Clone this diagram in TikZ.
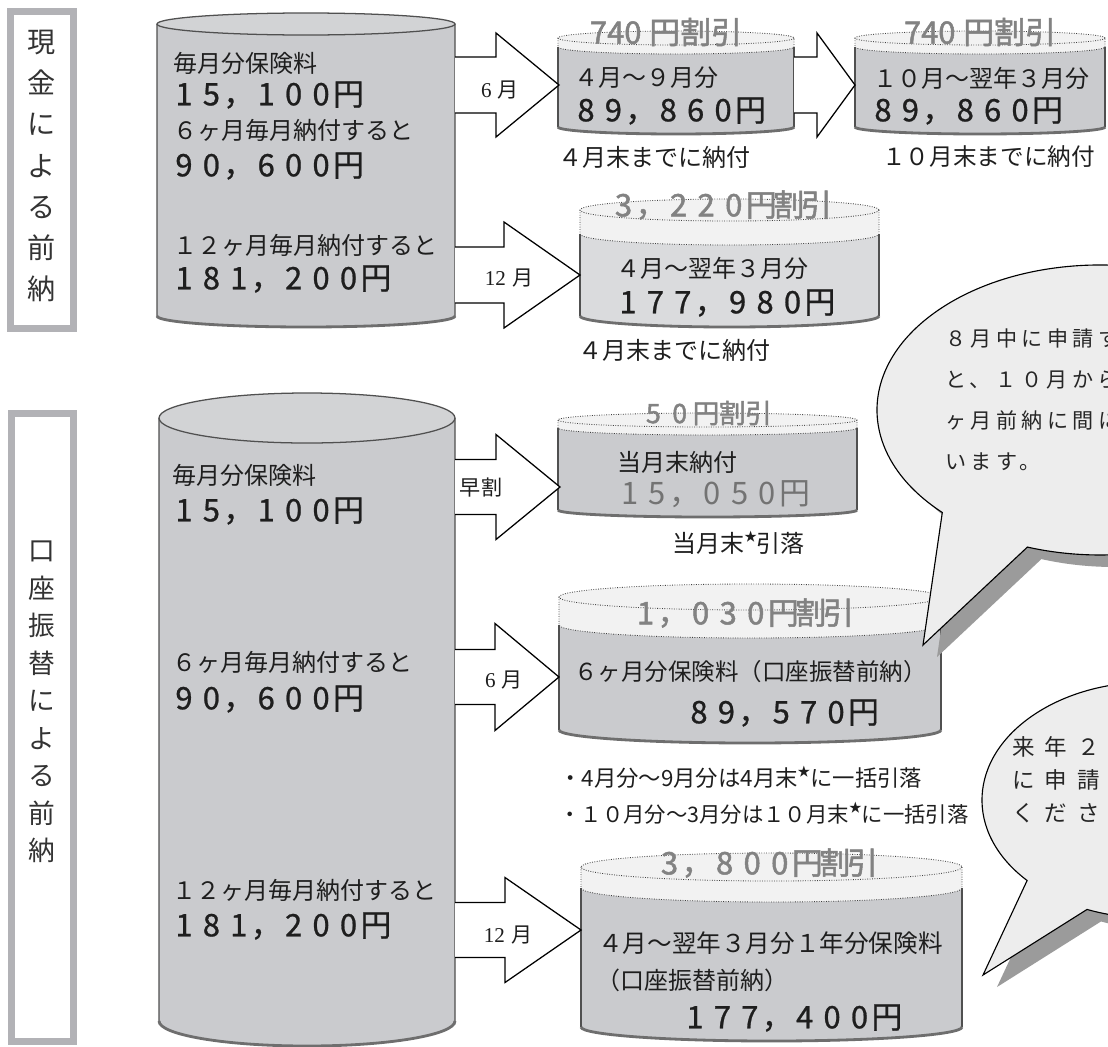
\documentclass[tikz,border=0pt]{standalone}
\usepackage{fontspec}
\usepackage{tikz}
\setmainfont{Noto Sans CJK JP}
\newfontfamily\serifnum{Liberation Serif}
\newfontfamily\numfont[FakeBold=0.8]{Noto Sans CJK JP}
\newfontfamily\salefont[FakeBold=1.6]{Noto Sans CJK JP}
\newfontfamily\bubbleA[LetterSpace=21]{Noto Sans CJK JP}
\newfontfamily\bubbleB[LetterSpace=45]{Noto Sans CJK JP}
\usetikzlibrary{calc}
\definecolor{cylbody}{RGB}{202,203,206}
\definecolor{cyllight}{RGB}{218,219,221}
\definecolor{salefill}{RGB}{242,242,242}
\definecolor{cyledge}{RGB}{80,80,80}
\definecolor{cylshade}{RGB}{110,110,110}
\definecolor{framegray}{RGB}{178,178,182}
\definecolor{bubblefill}{RGB}{237,237,237}
\definecolor{bubbleshade}{RGB}{155,155,155}
\definecolor{salecol}{RGB}{130,130,130}
\definecolor{graynum}{RGB}{115,115,115}
\definecolor{textcol}{RGB}{30,30,30}
\tikzstyle{cylline} = [draw=cyledge, line width=0.9pt]
\tikzstyle{cylbase} = [draw=cylshade, line width=2pt]
\tikzstyle{dotline} = [draw=black!75, line width=0.6pt, dash pattern=on 0.6pt off 1.1pt]
\tikzstyle{arrowline} = [draw=black, fill=white, line width=0.9pt, line join=miter]
\tikzstyle{sideframe} = [draw=framegray, line width=5pt]
\tikzstyle{bubble} = [draw=black, fill=bubblefill, line width=0.8pt]
\tikzstyle{bubbleshadow} = [fill=bubbleshade]
\tikzstyle{txt} = [anchor=west, inner sep=0pt, text=textcol, font=\fontsize{17.07pt}{20pt}\selectfont]
\tikzstyle{num} = [txt, font=\numfont\fontsize{22pt}{26pt}\selectfont]
\tikzstyle{note} = [txt, font=\fontsize{15.9pt}{18pt}\selectfont]
\tikzstyle{sale} = [anchor=center, inner sep=0pt, text=salecol, font=\salefont\fontsize{22pt}{26pt}\selectfont]
\tikzstyle{salesm} = [sale, font=\salefont\fontsize{19pt}{22pt}\selectfont]
\tikzstyle{arrowlabel} = [anchor=center, inner sep=0pt, text=textcol, font=\fontsize{15pt}{18pt}\selectfont]
\tikzstyle{vlabel} = [anchor=center, align=center, inner sep=0pt, text=black!80, font=\fontsize{20pt}{29.2pt}\selectfont]
\tikzstyle{bubtxtA} = [txt, text=black!85, font=\bubbleA\fontsize{15pt}{18pt}\selectfont]
\tikzstyle{bubtxtB} = [txt, text=black!85, font=\bubbleB\fontsize{16pt}{19pt}\selectfont]
\newcommand{\kstar}{\raisebox{0.45em}{\fontsize{9pt}{9pt}\selectfont ★}}
% every character of a figure in a cell of the same width
\def\fwnumA#1{\ifx#1\relax\else\makebox[\fwwidth]{#1}\expandafter\fwnumA\fi}
\newcommand{\fwnum}[2][19.5pt]{\def\fwwidth{#1}\fwnumA#2\relax}
% plain cylinder: xL xR ytop ybottom ry colour
\newcommand{\bigcyl}[6]{%
  \pgfmathsetmacro{\cylcx}{(#1+#2)/2}%
  \pgfmathsetmacro{\cylrx}{(#2-#1)/2}%
  \fill[#6] (#1,#3) -- (#1,#4) arc[start angle=180, end angle=0, x radius=\cylrx, y radius=#5] -- (#2,#3) -- cycle;
  \fill[#6!85!white] (\cylcx,#3) ellipse[x radius=\cylrx, y radius=#5];
  \draw[cylline] (#1,#3) -- (#1,#4) arc[start angle=180, end angle=0, x radius=\cylrx, y radius=#5] -- (#2,#3);
  \draw[cylline] (\cylcx,#3) ellipse[x radius=\cylrx, y radius=#5];
  \draw[cylbase] (#1,#4) arc[start angle=180, end angle=0, x radius=\cylrx, y radius=#5];
}
% cylinder with dotted discount part: xL xR ytop ysplit ybottom ry colour
\newcommand{\salecyl}[7]{%
  \pgfmathsetmacro{\cylcx}{(#1+#2)/2}%
  \pgfmathsetmacro{\cylrx}{(#2-#1)/2}%
  \fill[salefill] (#1,#3) -- (#1,#4) arc[start angle=180, end angle=0, x radius=\cylrx, y radius=#6] -- (#2,#3) -- cycle;
  \fill[salefill] (\cylcx,#3) ellipse[x radius=\cylrx, y radius=#6];
  \fill[#7] (#1,#4) -- (#1,#5) arc[start angle=180, end angle=0, x radius=\cylrx, y radius=#6] -- (#2,#4) arc[start angle=0, end angle=180, x radius=\cylrx, y radius=#6] -- cycle;
  \draw[dotline] (\cylcx,#3) ellipse[x radius=\cylrx, y radius=#6];
  \draw[dotline] (#1,#3) -- (#1,#4) arc[start angle=180, end angle=0, x radius=\cylrx, y radius=#6] -- (#2,#3);
  \draw[cylline] (#1,#4) -- (#1,#5);
  \draw[cylline] (#2,#4) -- (#2,#5);
  \draw[cylbase] (#1,#5) arc[start angle=180, end angle=0, x radius=\cylrx, y radius=#6];
}
% block arrow: xstart xhead xtip ycentre shaft/2 head/2
\newcommand{\blockarr}[6]{%
  \filldraw[arrowline] (#1,#4-#5) -- (#2,#4-#5) -- (#2,#4-#6) -- (#3,#4) -- (#2,#4+#6) -- (#2,#4+#5) -- (#1,#4+#5);
}

\begin{document}
\begin{tikzpicture}[x=0.025cm, y=-0.025cm]
\useasboundingbox (0,0) rectangle (1108,1046);
\clip (0,0) rectangle (1108,1046);
\fill[white] (0,0) rectangle (1108,1046);

% side labels
\draw[sideframe] (10.5,11.5) rectangle (73.5,328.5);
\draw[sideframe] (11.5,413.5) rectangle (73.5,1041.5);
\node (cashlabel) [vlabel] at (42,166) {現\\金\\に\\よ\\る\\前\\納};
\node (debitlabel) [vlabel, font=\fontsize{19pt}{26.7pt}\selectfont] at (42,702) {口\\座\\振\\替\\に\\よ\\る\\前\\納};

% cylinders
\bigcyl{157}{455}{24}{316}{11}{cylbody}
\bigcyl{159}{455}{418}{1021}{25}{cylbody}
\salecyl{558}{794}{38}{47}{127}{7}{cylbody}
\salecyl{855}{1105}{38}{47}{127}{7}{cylbody}
\salecyl{580}{879}{210}{234}{316}{11}{cyllight}
\salecyl{558}{857}{420}{428}{510}{7}{cylbody}
\salecyl{559}{941}{597}{625}{730}{13}{cylbody}
\salecyl{581}{962}{867}{888}{1027}{14}{cylbody}

% arrows
\blockarr{455}{496}{559}{85}{28}{52}
\blockarr{794}{817}{855}{85}{28}{52}
\blockarr{455}{504}{580}{275}{28}{53}
\blockarr{455}{496}{560}{487}{27.5}{52.5}
\blockarr{455}{495}{559}{677}{27.5}{53.5}
\blockarr{455}{505}{581}{930}{27.5}{52.5}

% speech bubbles
\fill[bubbleshadow, shift={(14,12)}] (942.3,512.5) arc[start angle=135, end angle=469, x radius=223, y radius=145] -- (923,645) -- cycle;
\draw[bubble] (942.3,512.5) arc[start angle=135, end angle=469, x radius=223, y radius=145] -- (923,645) -- cycle;
\fill[bubbleshadow, shift={(14,12)}] (1027.1,880.5) arc[start angle=137, end angle=472, x radius=168, y radius=118] -- (983,975) -- cycle;
\draw[bubble] (1027.1,880.5) arc[start angle=137, end angle=472, x radius=168, y radius=118] -- (983,975) -- cycle;

% cash texts
\node (cashmonth) [txt] at (173,63) {毎月分保険料};
\node (cashmonthval) [num] at (170,95) {\fwnum{15，100円}};
\node (cashsix) [txt] at (173,130) {６ヶ月毎月納付すると};
\node (cashsixval) [num] at (170,166) {\fwnum{90，600円}};
\node (cashtwelve) [txt] at (173,245) {１２ヶ月毎月納付すると};
\node (cashtwelveval) [num] at (170,279) {\fwnum{181，200円}};
\node (cashsixarr) [arrowlabel] at (500,90) {{\serifnum 6}\hspace{0.3em}月};
\node (cashtwelvearr) [arrowlabel] at (509,278) {{\serifnum 12}\hspace{0.3em}月};

\node (firstcut) [sale] at (666,32) {740\hspace{0.25em}円割引};
\node (first) [txt] at (574,78) {４月～９月分};
\node (firstval) [num] at (572,111) {\fwnum{89，860円}};
\node (firstdue) [txt] at (558,157) {４月末までに納付};
\node (secondcut) [sale] at (980,32) {740\hspace{0.25em}円割引};
\node (second) [txt] at (873,78) {１０月～翌年３月分};
\node (secondval) [num] at (869,111) {\fwnum{89，860円}};
\node (seconddue) [txt, font=\fontsize{16.8pt}{20pt}\selectfont] at (882,157) {１０月末までに納付};
\node (yearcut) [sale] at (720,205) {\fwnum[19.6pt]{3，220円割引}};
\node (year) [txt] at (616,268) {４月～翌年３月分};
\node (yearval) [num] at (614,303) {\fwnum{177，980円}};
\node (yeardue) [txt] at (578,350) {４月末までに納付};

% debit texts
\node (debitmonth) [txt] at (172,475) {毎月分保険料};
\node (debitmonthval) [num] at (170,511) {\fwnum{15，100円}};
\node (debitsix) [txt] at (172,662) {６ヶ月毎月納付すると};
\node (debitsixval) [num] at (170,699) {\fwnum{90，600円}};
\node (debittwelve) [txt] at (172,890) {１２ヶ月毎月納付すると};
\node (debittwelveval) [num] at (170,926) {\fwnum{181，200円}};
\node (earlyarr) [arrowlabel] at (481,488) {早割};
\node (debitsixarr) [arrowlabel] at (504,680) {{\serifnum 6}\hspace{0.3em}月};
\node (debittwelvearr) [arrowlabel] at (508,935) {{\serifnum 12}\hspace{0.3em}月};

\node (earlycut) [salesm] at (706,413) {\fwnum[18.7pt]{50円割引}};
\node (early) [txt] at (617,462) {当月末納付};
\node (earlyval) [num, text=graynum, font=\fontsize{22pt}{26pt}\selectfont] at (616,494) {\fwnum{15，050円}};
\node (earlydue) [txt] at (672,543) {当月末\kstar 引落};
\node (halfcut) [sale] at (742,613) {\fwnum[19.6pt]{1，030円割引}};
\node (half) [txt, font=\fontsize{16.7pt}{20pt}\selectfont] at (574,672) {６ヶ月分保険料（口座振替前納）};
\node (halfval) [num] at (685,713) {\fwnum{89，570円}};
\node (halfnoteA) [note] at (559,777) {・4月分～9月分は4月末\kstar に一括引落};
\node (halfnoteB) [note, font=\fontsize{15.2pt}{18pt}\selectfont] at (559,813) {・１０月分～3月分は１０月末\kstar に一括引落};
\node (fullcut) [sale] at (766,863) {\fwnum[19.6pt]{3，800円割引}};
\node (full) [txt, font=\fontsize{17.5pt}{20pt}\selectfont] at (598,943) {４月～翌年３月分１年分保険料};
\node (fullsub) [txt] at (596,980) {（口座振替前納）};
\node (fullval) [num] at (681,1018) {\fwnum{177，400円}};

% bubble texts
\node (augA) [bubtxtA] at (945,338) {８月中に申請す};
\node (augB) [bubtxtA] at (945,380) {と、１０月からの};
\node (augC) [bubtxtA] at (945,420) {ヶ月前納に間に};
\node (augD) [bubtxtA] at (945,462) {います。};
\node (febA) [bubtxtB] at (1012,747) {来年２};
\node (febB) [bubtxtB] at (1012,780) {に申請};
\node (febC) [bubtxtB] at (1012,813) {ください};
\end{tikzpicture}
\end{document}
